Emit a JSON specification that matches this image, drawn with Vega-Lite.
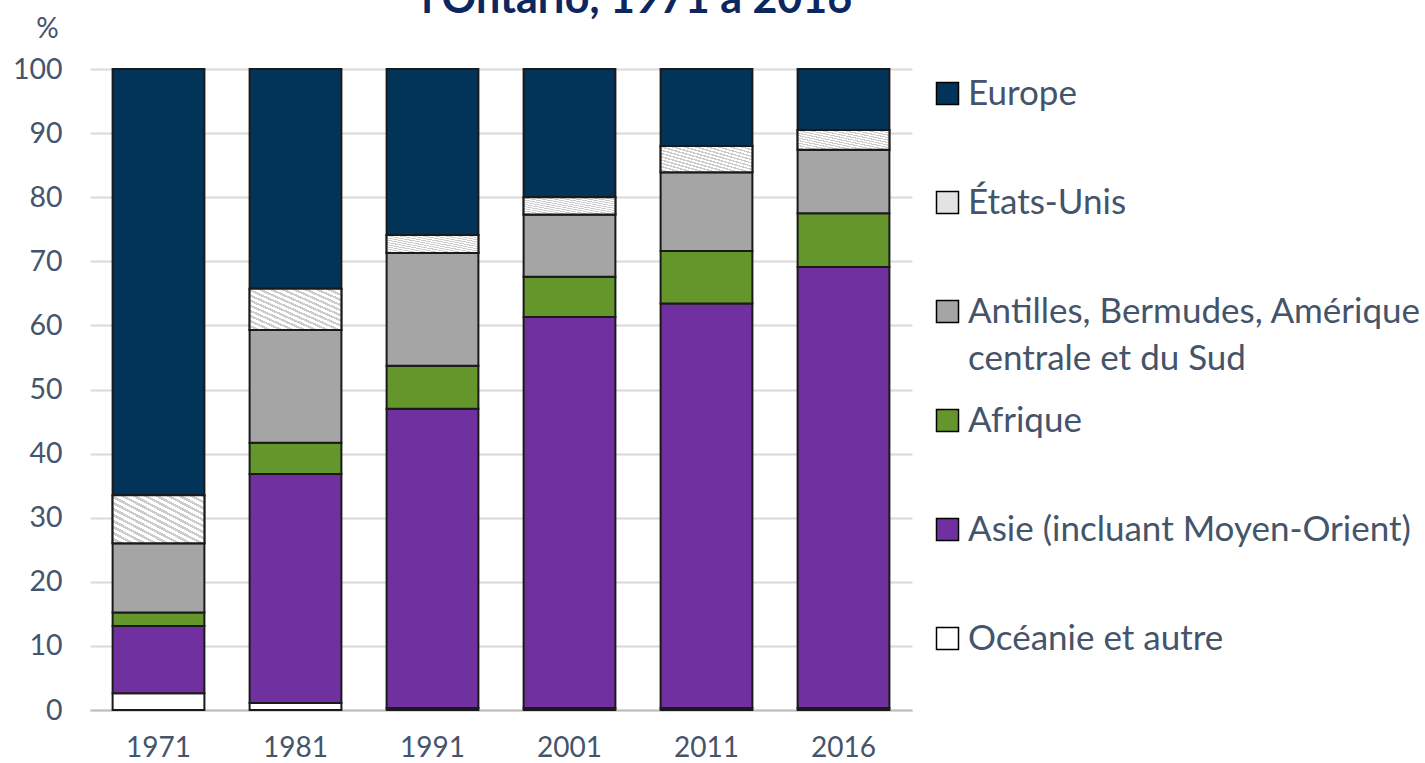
{
  "$schema": "https://vega.github.io/schema/vega-lite/v6.json",
  "width": 822,
  "height": 641,
  "autosize": {"type": "none"},
  "padding": {"left": 90, "top": 69, "right": 513, "bottom": 53},
  "background": "white",
  "title": {
    "text": "l'Ontario, 1971 à 2016",
    "anchor": "middle",
    "frame": "group",
    "dx": 136,
    "dy": 41,
    "offset": 0,
    "fontSize": 43,
    "font": "Lato",
    "fontWeight": "bold",
    "color": "#0c2660",
    "baseline": "alphabetic"
  },
  "config": {
    "view": {"stroke": null},
    "font": "Lato"
  },
  "data": {
    "values": [
      {"annee": "1971", "region": "Océanie et autre", "rang": 1, "pct": 2.6},
      {"annee": "1971", "region": "Asie (incluant Moyen-Orient)", "rang": 2, "pct": 10.5},
      {"annee": "1971", "region": "Afrique", "rang": 3, "pct": 2.1},
      {"annee": "1971", "region": "Antilles, Bermudes, Amérique centrale et du Sud", "rang": 4, "pct": 10.8},
      {"annee": "1971", "region": "États-Unis", "rang": 5, "pct": 7.5},
      {"annee": "1971", "region": "Europe", "rang": 6, "pct": 66.5},
      {"annee": "1981", "region": "Océanie et autre", "rang": 1, "pct": 1.1},
      {"annee": "1981", "region": "Asie (incluant Moyen-Orient)", "rang": 2, "pct": 35.7},
      {"annee": "1981", "region": "Afrique", "rang": 3, "pct": 4.9},
      {"annee": "1981", "region": "Antilles, Bermudes, Amérique centrale et du Sud", "rang": 4, "pct": 17.6},
      {"annee": "1981", "region": "États-Unis", "rang": 5, "pct": 6.4},
      {"annee": "1981", "region": "Europe", "rang": 6, "pct": 34.3},
      {"annee": "1991", "region": "Océanie et autre", "rang": 1, "pct": 0.3},
      {"annee": "1991", "region": "Asie (incluant Moyen-Orient)", "rang": 2, "pct": 46.7},
      {"annee": "1991", "region": "Afrique", "rang": 3, "pct": 6.7},
      {"annee": "1991", "region": "Antilles, Bermudes, Amérique centrale et du Sud", "rang": 4, "pct": 17.6},
      {"annee": "1991", "region": "États-Unis", "rang": 5, "pct": 2.8},
      {"annee": "1991", "region": "Europe", "rang": 6, "pct": 25.9},
      {"annee": "2001", "region": "Océanie et autre", "rang": 1, "pct": 0.3},
      {"annee": "2001", "region": "Asie (incluant Moyen-Orient)", "rang": 2, "pct": 61.0},
      {"annee": "2001", "region": "Afrique", "rang": 3, "pct": 6.3},
      {"annee": "2001", "region": "Antilles, Bermudes, Amérique centrale et du Sud", "rang": 4, "pct": 9.7},
      {"annee": "2001", "region": "États-Unis", "rang": 5, "pct": 2.7},
      {"annee": "2001", "region": "Europe", "rang": 6, "pct": 20.0},
      {"annee": "2011", "region": "Océanie et autre", "rang": 1, "pct": 0.3},
      {"annee": "2011", "region": "Asie (incluant Moyen-Orient)", "rang": 2, "pct": 63.1},
      {"annee": "2011", "region": "Afrique", "rang": 3, "pct": 8.2},
      {"annee": "2011", "region": "Antilles, Bermudes, Amérique centrale et du Sud", "rang": 4, "pct": 12.3},
      {"annee": "2011", "region": "États-Unis", "rang": 5, "pct": 4.1},
      {"annee": "2011", "region": "Europe", "rang": 6, "pct": 12.0},
      {"annee": "2016", "region": "Océanie et autre", "rang": 1, "pct": 0.3},
      {"annee": "2016", "region": "Asie (incluant Moyen-Orient)", "rang": 2, "pct": 68.8},
      {"annee": "2016", "region": "Afrique", "rang": 3, "pct": 8.4},
      {"annee": "2016", "region": "Antilles, Bermudes, Amérique centrale et du Sud", "rang": 4, "pct": 9.9},
      {"annee": "2016", "region": "États-Unis", "rang": 5, "pct": 3.1},
      {"annee": "2016", "region": "Europe", "rang": 6, "pct": 9.5}
    ]
  },
  "transform": [
    {"stack": "pct", "groupby": ["annee"], "sort": [{"field": "rang", "order": "ascending"}], "as": ["y0", "y1"]}
  ],
  "encoding": {
    "x": {
      "field": "annee",
      "type": "ordinal",
      "scale": {"paddingInner": 0.33, "paddingOuter": 0.165},
      "axis": {
        "title": null,
        "labelAngle": 0,
        "labelFont": "Lato",
        "labelFontSize": 28,
        "labelColor": "#44546a",
        "labelPadding": 24,
        "ticks": false,
        "domain": true,
        "domainColor": "#bfbfbf",
        "domainWidth": 2,
        "grid": false
      }
    },
    "y": {
      "field": "y0",
      "type": "quantitative",
      "scale": {"domain": [0, 100], "nice": false},
      "axis": {
        "values": [0, 10, 20, 30, 40, 50, 60, 70, 80, 90, 100],
        "title": "%",
        "titleAngle": 0,
        "titleX": -43,
        "titleY": -40,
        "titleAlign": "center",
        "titleBaseline": "middle",
        "titleFont": "Lato",
        "titleFontSize": 28,
        "titleFontWeight": "normal",
        "titleColor": "#44546a",
        "labelFont": "Lato",
        "labelFontSize": 28.5,
        "labelColor": "#44546a",
        "labelPadding": 28,
        "ticks": false,
        "domain": false,
        "grid": true,
        "gridColor": "#d9d9d9",
        "gridWidth": 2
      }
    },
    "y2": {"field": "y1"}
  },
  "layer": [
    {
      "mark": {"type": "bar", "stroke": "#1a1a1a", "strokeWidth": 2},
      "encoding": {
        "color": {
          "field": "region",
          "type": "nominal",
          "scale": {
            "domain": ["Europe", "États-Unis", "Antilles, Bermudes, Amérique centrale et du Sud", "Afrique", "Asie (incluant Moyen-Orient)", "Océanie et autre"],
            "range": ["#023459", "#e3e3e3", "#a5a5a5", "#64962c", "#7030a0", "#ffffff"]
          },
          "legend": {
            "title": null,
            "orient": "none",
            "legendX": 840,
            "legendY": 7,
            "padding": 0,
            "gridAlign": "all",
            "symbolType": "square",
            "symbolSize": 484,
            "symbolStrokeColor": "#000000",
            "symbolStrokeWidth": 1.5,
            "symbolOpacity": 1,
            "labelFont": "Lato",
            "labelFontSize": 35,
            "labelColor": "#44546a",
            "labelOffset": 3,
            "labelLimit": 600,
            "rowPadding": 26,
            "labelExpr": "datum.value == 'Antilles, Bermudes, Amérique centrale et du Sud' ? ['Antilles, Bermudes, Amérique', 'centrale et du Sud'] : datum.label",
            "encode": {"labels": {"update": {"lineHeight": {"value": 47}}}}
          }
        }
      }
    },
    {
      "transform": [{"filter": "datum.region == 'États-Unis'"}],
      "mark": {
        "type": "bar",
        "stroke": "#1a1a1a",
        "strokeWidth": 2,
        "fill": {
          "gradient": "linear",
          "x1": 0, "y1": 1, "x2": 1, "y2": 0,
          "stops": [
            {"offset": 0, "color": "#ffffff"}, {"offset": 0.034, "color": "#ffffff"}, {"offset": 0.034, "color": "#cccccc"}, {"offset": 0.0625, "color": "#cccccc"},
            {"offset": 0.0625, "color": "#ffffff"}, {"offset": 0.0965, "color": "#ffffff"}, {"offset": 0.0965, "color": "#cccccc"}, {"offset": 0.125, "color": "#cccccc"},
            {"offset": 0.125, "color": "#ffffff"}, {"offset": 0.159, "color": "#ffffff"}, {"offset": 0.159, "color": "#cccccc"}, {"offset": 0.1875, "color": "#cccccc"},
            {"offset": 0.1875, "color": "#ffffff"}, {"offset": 0.2215, "color": "#ffffff"}, {"offset": 0.2215, "color": "#cccccc"}, {"offset": 0.25, "color": "#cccccc"},
            {"offset": 0.25, "color": "#ffffff"}, {"offset": 0.284, "color": "#ffffff"}, {"offset": 0.284, "color": "#cccccc"}, {"offset": 0.3125, "color": "#cccccc"},
            {"offset": 0.3125, "color": "#ffffff"}, {"offset": 0.3465, "color": "#ffffff"}, {"offset": 0.3465, "color": "#cccccc"}, {"offset": 0.375, "color": "#cccccc"},
            {"offset": 0.375, "color": "#ffffff"}, {"offset": 0.409, "color": "#ffffff"}, {"offset": 0.409, "color": "#cccccc"}, {"offset": 0.4375, "color": "#cccccc"},
            {"offset": 0.4375, "color": "#ffffff"}, {"offset": 0.4715, "color": "#ffffff"}, {"offset": 0.4715, "color": "#cccccc"}, {"offset": 0.5, "color": "#cccccc"},
            {"offset": 0.5, "color": "#ffffff"}, {"offset": 0.534, "color": "#ffffff"}, {"offset": 0.534, "color": "#cccccc"}, {"offset": 0.5625, "color": "#cccccc"},
            {"offset": 0.5625, "color": "#ffffff"}, {"offset": 0.5965, "color": "#ffffff"}, {"offset": 0.5965, "color": "#cccccc"}, {"offset": 0.625, "color": "#cccccc"},
            {"offset": 0.625, "color": "#ffffff"}, {"offset": 0.659, "color": "#ffffff"}, {"offset": 0.659, "color": "#cccccc"}, {"offset": 0.6875, "color": "#cccccc"},
            {"offset": 0.6875, "color": "#ffffff"}, {"offset": 0.7215, "color": "#ffffff"}, {"offset": 0.7215, "color": "#cccccc"}, {"offset": 0.75, "color": "#cccccc"},
            {"offset": 0.75, "color": "#ffffff"}, {"offset": 0.784, "color": "#ffffff"}, {"offset": 0.784, "color": "#cccccc"}, {"offset": 0.8125, "color": "#cccccc"},
            {"offset": 0.8125, "color": "#ffffff"}, {"offset": 0.8465, "color": "#ffffff"}, {"offset": 0.8465, "color": "#cccccc"}, {"offset": 0.875, "color": "#cccccc"},
            {"offset": 0.875, "color": "#ffffff"}, {"offset": 0.909, "color": "#ffffff"}, {"offset": 0.909, "color": "#cccccc"}, {"offset": 0.9375, "color": "#cccccc"},
            {"offset": 0.9375, "color": "#ffffff"}, {"offset": 0.9715, "color": "#ffffff"}, {"offset": 0.9715, "color": "#cccccc"}, {"offset": 1, "color": "#cccccc"}
          ]
        }
      }
    }
  ]
}
